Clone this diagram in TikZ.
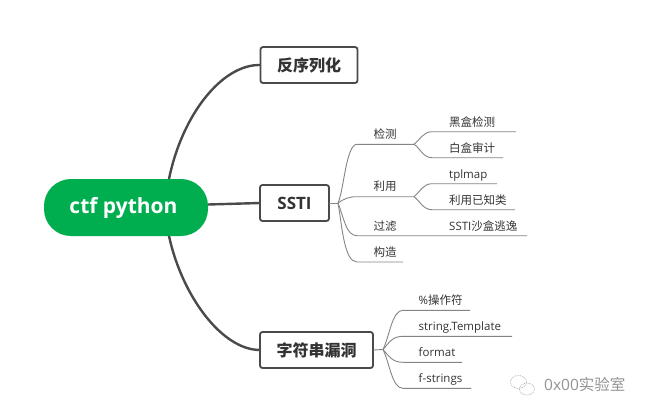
\documentclass[tikz,border=0pt]{standalone}
\usepackage{fontspec}
\setmainfont{Open Sans}
\newfontfamily\cjk{Noto Sans CJK SC}
\usepackage{xcolor}
\definecolor{mapgreen}{HTML}{00AE50}
\definecolor{mapdark}{HTML}{4A4A4A}
\definecolor{maptext}{HTML}{333333}
\definecolor{mapline}{HTML}{858585}
\tikzset{
	rootbox/.style={fill=mapgreen,text=white,rounded corners=27pt,minimum width=164pt,minimum height=57pt,outer sep=0pt,font=\fontsize{21}{24}\selectfont\bfseries},
	topicbox/.style={draw=mapdark,line width=1.8pt,fill=white,rounded corners=2.5pt,minimum height=36pt,inner sep=0pt,outer sep=0pt,text=maptext,font=\fontsize{17}{19}\selectfont\bfseries},
	cjktopic/.style={font=\cjk\fontsize{16}{19}\selectfont\bfseries},
	leaftext/.style={anchor=base west,inner sep=0pt,text=maptext,font=\fontsize{11.5}{14}\selectfont},
	trunk/.style={draw=mapdark,line width=2.4pt},
	twig/.style={draw=mapline,line width=0.9pt},
	mark text/.style={text=gray!85,inner sep=0pt,font=\fontsize{15.5}{17}\selectfont}
}
\begin{document}
\begin{tikzpicture}[x=1pt,y=-1pt]
\useasboundingbox (0,0) rectangle (646,413);
\fill[white] (0,0) rectangle (646,413);

% main topics
\node[rootbox] (root) at (126,207.5) {\hspace*{-5pt}ctf python};
\node[topicbox,cjktopic,minimum width=97pt] (unpickle) at (309,65) {反序列化};
\node[topicbox,minimum width=69pt] (ssti) at (294.5,203) {SSTI};
\node[topicbox,cjktopic,minimum width=113pt] (fmtbug) at (316.5,350) {字符串漏洞};

\coordinate (roottop) at (169,179);
\coordinate (rootbot) at (169,236);
\coordinate (rootright) at (208,204.5);
\draw[trunk] (roottop) .. controls (182,115) and (222,64) .. (unpickle.west);
\draw[trunk] (rootright) -- (ssti.west);
\draw[trunk] (rootbot) .. controls (182,296) and (222,350) .. (fmtbug.west);

% SSTI branch
\coordinate (sstifork) at (338,203);
\coordinate (jiance) at (357,144.3);
\coordinate (jianceend) at (414,144.3);
\coordinate (liyong) at (357,196.7);
\coordinate (liyongend) at (414,196.7);
\coordinate (guolv) at (357,235.7);
\coordinate (guolvend) at (527,235.7);
\coordinate (gouzao) at (357,262);
\coordinate (gouzaoend) at (403,262);
\draw[twig] (ssti.east) -- (sstifork);
\draw[twig] (sstifork) .. controls (344,190) and (346,144.3) .. (jiance) -- (jianceend);
\draw[twig] (sstifork) .. controls (344,199) and (348,196.7) .. (liyong) -- (liyongend);
\draw[twig] (sstifork) .. controls (344,218) and (346,235.7) .. (guolv) -- (guolvend);
\draw[twig] (sstifork) .. controls (342,225) and (344,262) .. (gouzao) -- (gouzaoend);
\node[leaftext] (jiancetext) at (373.5,138.7) {\cjk 检测};
\node[leaftext] (liyongtext) at (373.5,190.7) {\cjk 利用};
\node[leaftext] (guolvtext) at (373.5,230) {\cjk 过滤};
\node[leaftext] (gouzaotext) at (373.5,256.5) {\cjk 构造};

% second level
\coordinate (heihe) at (432,131.7);
\coordinate (heiheend) at (516,131.7);
\coordinate (baihe) at (432,157.7);
\coordinate (baiheend) at (503,157.7);
\coordinate (tplmap) at (432,183.7);
\coordinate (tplmapend) at (497,183.7);
\coordinate (yizhi) at (432,209.7);
\coordinate (yizhiend) at (515,209.7);
\draw[twig] (jianceend) .. controls (420,140) and (423,131.7) .. (heihe) -- (heiheend);
\draw[twig] (jianceend) .. controls (420,148) and (423,157.7) .. (baihe) -- (baiheend);
\draw[twig] (liyongend) .. controls (420,192) and (423,183.7) .. (tplmap) -- (tplmapend);
\draw[twig] (liyongend) .. controls (420,201) and (423,209.7) .. (yizhi) -- (yizhiend);
\node[leaftext] (heihetext) at (449,126) {\cjk 黑盒检测};
\node[leaftext] (baihetext) at (449,152) {\cjk 白盒审计};
\node[leaftext] (tplmaptext) at (449,178) {tplmap};
\node[leaftext] (yizhitext) at (449,204) {\cjk 利用已知类};
\node[leaftext] (shahetext) at (449,230) {SSTI{\cjk 沙盒逃逸}};

% format string branch
\coordinate (fmtfork) at (383,349.5);
\coordinate (caozuo) at (403,310.3);
\coordinate (caozuoend) at (470,310.3);
\coordinate (template) at (403,336.3);
\coordinate (templateend) at (512,336.3);
\coordinate (format) at (403,362.3);
\coordinate (formatend) at (462,362.3);
\coordinate (fstrings) at (403,388.3);
\coordinate (fstringsend) at (471,388.3);
\draw[twig] (fmtbug.east) -- (fmtfork);
\draw[twig] (fmtfork) .. controls (390,335) and (392,310.3) .. (caozuo) -- (caozuoend);
\draw[twig] (fmtfork) .. controls (389,343) and (392,336.3) .. (template) -- (templateend);
\draw[twig] (fmtfork) .. controls (389,356) and (392,362.3) .. (format) -- (formatend);
\draw[twig] (fmtfork) .. controls (390,364) and (392,388.3) .. (fstrings) -- (fstringsend);
\node[leaftext] (caozuotext) at (418.5,304.5) {\%{\cjk 操作符}};
\node[leaftext] (templatetext) at (418.5,330.5) {string.Template};
\node[leaftext] (formattext) at (418.5,356.5) {format};
\node[leaftext] (fstringstext) at (418.5,382.5) {f-strings};

% watermark
\draw[gray!70,densely dotted,line width=0.7pt] (518.5,382) ellipse (8 and 6.5);
\draw[gray!70,densely dotted,line width=0.7pt] (527,389) ellipse (7.5 and 6);
\node[mark text,anchor=west] (marktext) at (544,385) {0x00{\cjk 实验室}};
\end{tikzpicture}
\end{document}
